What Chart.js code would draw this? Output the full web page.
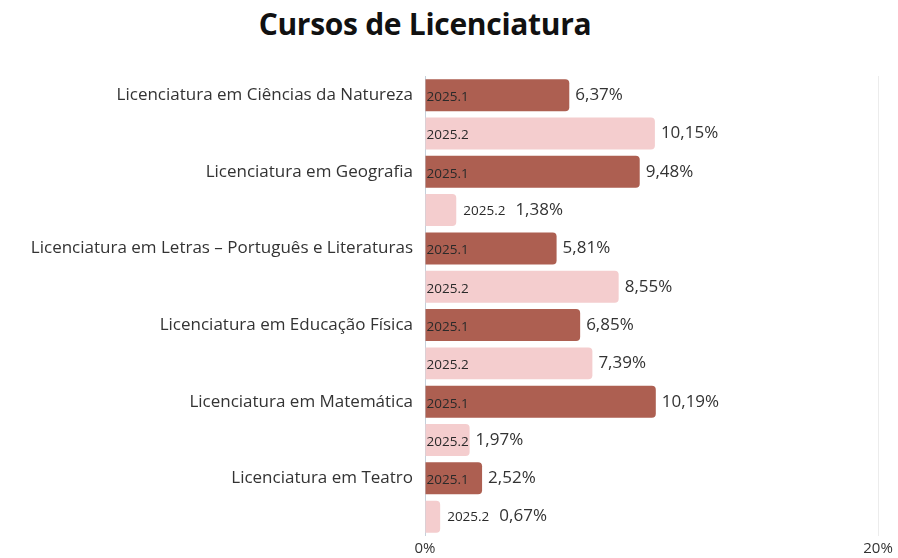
<!DOCTYPE html>
<html lang="pt-BR">
<head>
<meta charset="utf-8">
<title>Cursos de Licenciatura</title>
<script src="https://cdn.jsdelivr.net/npm/chart.js@4"></script>
<style>
  html, body { margin: 0; padding: 0; background: #fff; }
  #wrap { position: relative; width: 898px; height: 558px; }
  #titulo {
    position: absolute; top: 3px; left: 0; width: 850px;
    text-align: center; margin: 0;
    font: 700 30px "Open Sans", sans-serif; color: #111;
    letter-spacing: -0.3px;
  }
  canvas { position: absolute; top: 0; left: 0; }
</style>
</head>
<body>
<div id="wrap">
  <h1 id="titulo">Cursos de Licenciatura</h1>
  <canvas id="grafico" width="898" height="558"></canvas>
</div>
<script>
const cursos = [
  "Licenciatura em Ciências da Natureza",
  "Licenciatura em Geografia",
  "Licenciatura em Letras – Português e Literaturas",
  "Licenciatura em Educação Física",
  "Licenciatura em Matemática",
  "Licenciatura em Teatro"
];
const semestres = ["2025.1", "2025.2"];
const valores_2025_1 = [6.37, 9.48, 5.81, 6.85, 10.19, 2.52];
const valores_2025_2 = [10.15, 1.38, 8.55, 7.39, 1.97, 0.67];
const cores = ["#ad5f51", "#f4cdce"];
const ticks_x = [0, 20];

// one row per bar: course name only on the 2025.1 row
const rotulos = [], valores = [], fundos = [], serie = [];
cursos.forEach((curso, i) => {
  rotulos.push(curso, "");
  valores.push(valores_2025_1[i], valores_2025_2[i]);
  fundos.push(cores[0], cores[1]);
  serie.push(semestres[0], semestres[1]);
});

const fmt = (v) => v.toFixed(2).replace(".", ",") + "%";

// semester name inside the bar (or just after it when it doesn't fit) + value
const rotulosBarras = {
  id: "rotulosBarras",
  afterDatasetsDraw(chart) {
    const ctx = chart.ctx;
    const meta = chart.getDatasetMeta(0);
    ctx.save();
    ctx.textBaseline = "middle";
    ctx.textAlign = "left";
    meta.data.forEach((bar, i) => {
      const largura = bar.x - bar.base;
      ctx.font = '13.5px "Open Sans"';
      const w = ctx.measureText(serie[i]).width;
      let fim;
      ctx.fillStyle = "#2a2a2a";
      if (largura >= w + 1) {
        ctx.fillText(serie[i], bar.base + 1, bar.y + 2);
        fim = bar.x + 6;
      } else {
        ctx.fillText(serie[i], bar.x + 7, bar.y + 1);
        fim = bar.x + 7 + w + 10;
      }
      ctx.font = '17px "Open Sans"';
      ctx.fillStyle = "#333";
      ctx.fillText(fmt(valores[i]), fim, bar.y);
    });
    ctx.restore();
  }
};

new Chart(document.getElementById("grafico"), {
  type: "bar",
  data: {
    labels: rotulos,
    datasets: [{
      data: valores,
      backgroundColor: fundos,
      borderRadius: 4,
      borderSkipped: "start",
      categoryPercentage: 1,
      barPercentage: 0.835
    }]
  },
  options: {
    indexAxis: "y",
    responsive: false,
    animation: false,
    layout: { padding: { top: 76, right: 20, bottom: 0, left: 0 } },
    plugins: {
      legend: { display: false },
      tooltip: { enabled: false }
    },
    scales: {
      x: {
        min: 0,
        max: 20,
        afterBuildTicks: (s) => { s.ticks = ticks_x.map((v) => ({ value: v })); },
        afterFit: (s) => { s.height = 22; },
        ticks: {
          padding: 4,
          color: "#333",
          font: { family: "Open Sans", size: 15 },
          callback: (v) => v + "%"
        },
        grid: { color: "#ececec", drawTicks: false },
        border: { display: false }
      },
      y: {
        afterFit: (s) => { s.width = 425; },
        ticks: {
          padding: 12,
          color: "#333",
          autoSkip: false,
          font: { family: "Open Sans", size: 17 }
        },
        grid: { display: false, drawTicks: false },
        border: { display: true, color: "#c5d0da", width: 1 }
      }
    }
  },
  plugins: [rotulosBarras]
});
</script>
</body>
</html>
